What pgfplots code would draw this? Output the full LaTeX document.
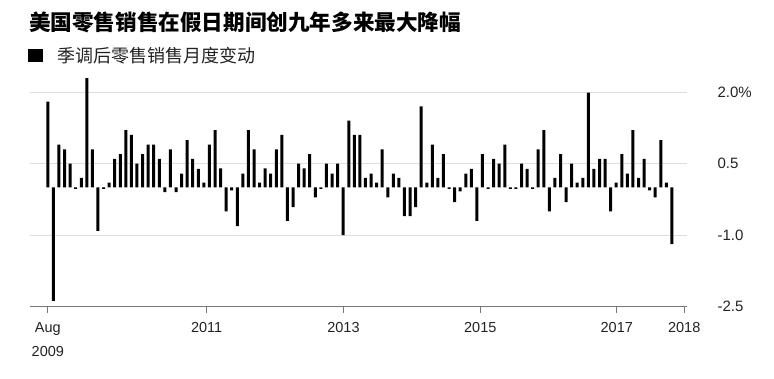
\documentclass[border=0pt]{standalone}
\usepackage{pgfplots}
\pgfplotsset{compat=1.18}
\usepackage{pgfplotstable}
\usepackage{fontspec}
\setmainfont{Liberation Sans}
\newfontfamily\cjk{Noto Sans CJK SC}
\definecolor{gridc}{HTML}{DDDDDD}
\definecolor{axisc}{HTML}{777777}
\definecolor{txt}{HTML}{222222}
\pgfplotstableread{
i v
0 1.80
1 -2.38
2 0.90
3 0.80
4 0.50
5 -0.03
6 0.20
7 2.29
8 0.80
9 -0.91
10 -0.03
11 0.10
12 0.60
13 0.70
14 1.20
15 1.10
16 0.50
17 0.70
18 0.90
19 0.90
20 0.60
21 -0.10
22 0.80
23 -0.10
24 0.29
25 0.99
26 0.60
27 0.39
28 0.10
29 0.90
30 1.20
31 0.40
32 -0.50
33 -0.06
34 -0.81
35 0.29
36 1.20
37 0.80
38 0.10
39 0.40
40 0.29
41 0.80
42 1.10
43 -0.70
44 -0.41
45 0.50
46 0.40
47 0.70
48 -0.21
49 -0.03
50 0.50
51 0.29
52 0.50
53 -1.00
54 1.40
55 1.10
56 1.10
57 0.20
58 0.29
59 0.10
60 0.80
61 -0.21
62 0.29
63 0.20
64 -0.60
65 -0.60
66 -0.41
67 1.70
68 0.10
69 0.90
70 0.20
71 0.70
72 -0.03
73 -0.31
74 -0.08
75 0.29
76 0.39
77 -0.70
78 0.70
79 -0.03
80 0.60
81 0.50
82 0.90
83 -0.03
84 -0.03
85 0.50
86 0.39
87 -0.03
88 0.80
89 1.20
90 -0.50
91 0.20
92 0.70
93 -0.31
94 0.50
95 0.10
96 0.20
97 1.99
98 0.39
99 0.60
100 0.60
101 -0.50
102 0.10
103 0.70
104 0.29
105 1.20
106 0.20
107 0.60
108 -0.06
109 -0.21
110 0.99
111 0.10
112 -1.19
}\sales
\begin{document}
\begin{tikzpicture}
\useasboundingbox (-30pt,-71.3pt) rectangle (744pt,306.7pt);
\begin{axis}[
  scale only axis, width=657pt, height=238.5pt,
  xmin=-3.2, xmax=114.7, ymin=-2.5, ymax=2.5,
  axis x line=bottom, axis y line*=right,
  x axis line style={-, color=axisc, line width=1pt},
  y axis line style={draw=none},
  xtick={0,28.5,53.05,77.6,102.1,114.2},
  xticklabels={Aug\\2009,2011,2013,2015,2017,2018},
  xticklabel style={align=center, font=\fontsize{14.5}{24}\selectfont, text=txt, yshift=-6pt},
  tick align=outside,
  xtick style={color=axisc, line width=0.8pt},
  major tick length=6pt,
  ytick={-2.5,-1,0.5,2},
  yticklabels={-2.5,-1.0,0.5,2.0\%},
  ytick style={draw=none},
  yticklabel style={anchor=west, font=\fontsize{15}{17}\selectfont, text=txt, xshift=21pt},
  ymajorgrids, grid style={color=gridc, line width=1pt},
  legend style={at={(-0.003,1.053)}, anchor=west, draw=none, fill=none, inner sep=0pt,
    font=\cjk\fontsize{18}{20}\selectfont, text=txt, legend cell align=left,
    nodes={inner xsep=2pt}},
  legend image code/.code={\fill[black] (0pt,-6.5pt) rectangle (15pt,6.5pt); \path (27pt,0pt);},
]
\addplot[ybar, bar width=3pt, bar shift=0pt, fill=black, draw=none] table[x=i, y=v] {\sales};
\addlegendentry{季调后零售销售月度变动}
\end{axis}
\node[anchor=west, inner sep=0pt, text=black] at (-1pt,284.7pt) {\cjk\bfseries\fontsize{21.6}{24}\selectfont 美国零售销售在假日期间创九年多来最大降幅};
\end{tikzpicture}
\end{document}
